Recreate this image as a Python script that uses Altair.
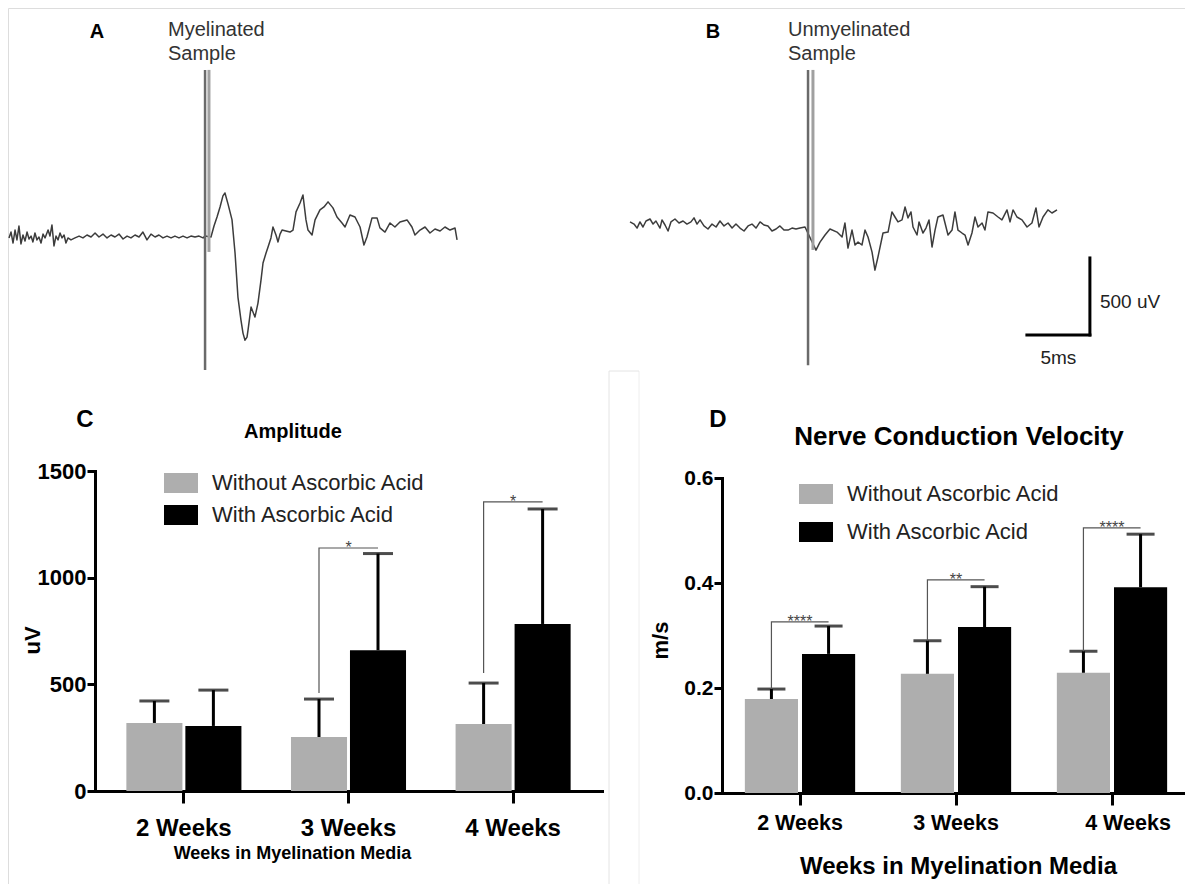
import altair as alt
import pandas as pd

FONT = "Liberation Sans"

# ---------------- data ----------------
weeks = ["2 Weeks", "3 Weeks", "4 Weeks"]
groups = ["Without Ascorbic Acid", "With Ascorbic Acid"]
bar_colors = ["#aeaeae", "#000000"]

amp_mean_without = [319, 253, 314]
amp_sd_without = [103, 178, 192]
amp_mean_with = [305, 660, 783]
amp_sd_with = [168, 453, 539]

ncv_mean_without = [0.179, 0.227, 0.229]
ncv_sd_without = [0.019, 0.063, 0.041]
ncv_mean_with = [0.265, 0.316, 0.392]
ncv_sd_with = [0.053, 0.077, 0.101]

amp_sig_weeks = ["3 Weeks", "4 Weeks"]
amp_sig_labels = ["*", "*"]
amp_sig_low = [459, 553]
amp_sig_high = [1139, 1355]

ncv_sig_weeks = ["2 Weeks", "3 Weeks", "4 Weeks"]
ncv_sig_labels = ["****", "**", "****"]
ncv_sig_low = [0.198, 0.29, 0.27]
ncv_sig_high = [0.326, 0.406, 0.505]

traceA_ms = [0.00, 0.16, 0.32, 0.48, 0.63, 0.79, 0.95, 1.11, 1.27, 1.43,
             1.59, 1.75, 1.90, 2.06, 2.22, 2.38, 2.54, 2.70, 2.86, 3.10,
             3.25, 3.41, 3.57, 3.73, 3.89, 4.05, 4.21, 4.37, 4.52, 4.68,
             4.92, 5.24, 5.56, 5.87, 6.19, 6.51, 6.83, 7.14, 7.46, 7.78,
             8.10, 8.41, 8.73, 9.05, 9.37, 9.68, 10.00, 10.32, 10.63, 10.95,
             11.27, 11.59, 11.90, 12.22, 12.54, 12.86, 13.17, 13.49, 13.81, 14.13,
             14.44, 14.76, 15.08, 15.40, 15.56,
             16.03, 16.27, 16.51, 16.75, 16.98, 17.14, 17.38, 17.54, 17.70, 17.94,
             18.17, 18.41, 18.57, 18.73, 18.89, 18.97, 19.21, 19.37, 19.52, 19.76,
             20.00, 20.16, 20.40, 20.56, 20.79, 20.95, 21.19, 21.35, 21.51, 21.67,
             21.98, 22.30, 22.54, 22.78, 23.10, 23.33, 23.57, 23.73, 24.05, 24.29,
             24.68, 25.00, 25.32, 25.71, 26.03, 26.43, 26.67, 27.06, 27.46, 27.86,
             28.17, 28.41, 28.81, 29.21, 29.44, 29.84, 30.24, 30.63, 31.03, 31.59,
             31.98, 32.22, 32.62, 33.02, 33.41, 33.81, 34.21, 34.60, 35.00, 35.40,
             35.56]
traceA_uV = [-6, 32, -39, 45, -19, 71, -45, 13, -26, 32,
             -13, 6, -32, 26, -19, 0, -39, 19, -6, 45,
             6, 78, -58, 6, -19, 26, -6, 13, -39, -6,
             -19, -6, 6, -6, 13, 0, 26, 0, 19, -6,
             13, 0, 19, -13, 6, -6, 13, 0, 32, -19,
             19, 0, 13, -6, 6, -6, 6, -6, 6, -6,
             6, 0, 6, -6, 6,
             0, 71, 130, 195, 267, 286, 215, 163, 111, -104,
             -390, -540, -624, -670, -650, -605, -455, -488, -520, -429,
             -280, -169, -104, -65, -6, 65, 13, -32, 19, 45,
             39, 32, 45, 163, 221, 273, 111, 45, 13, 111,
             176, 195, 228, 189, 130, 91, 65, 143, 130, 65,
             -52, 0, 124, 124, 59, 32, 91, 65, 98, 111,
             65, 13, 45, 65, 26, 52, 39, 65, 45, 58,
             -19]

traceB_ms = [0.00, 0.32, 0.56, 0.79, 1.03, 1.27, 1.59, 1.83, 2.06, 2.38,
             2.54, 2.78, 3.02, 3.25, 3.57, 3.89, 4.21, 4.52, 4.84, 5.08,
             5.32, 5.56, 5.87, 6.19, 6.51, 6.83, 7.14, 7.46, 7.78, 8.10,
             8.41, 8.73, 9.05, 9.37, 9.68, 10.00, 10.32, 10.63, 10.95, 11.27,
             11.59, 11.90, 12.22, 12.54, 12.86, 13.17, 13.49, 13.89,
             14.76, 15.08, 15.48, 15.87, 16.43, 16.83, 17.06, 17.30, 17.62, 17.86,
             18.10, 18.41, 18.65, 18.89, 19.21, 19.44, 19.68, 20.08, 20.48, 20.79,
             21.03, 21.27, 21.59, 21.83, 22.06, 22.30, 22.46, 22.78, 22.94, 23.25,
             23.49, 23.73, 23.97, 24.21, 24.44, 24.84, 25.24, 25.56, 25.79, 26.03,
             26.35, 26.59, 26.83, 27.14, 27.38, 27.62, 27.94, 28.17, 28.41, 28.81,
             29.21, 29.52, 29.92, 30.16, 30.40, 30.71, 31.11, 31.51, 31.90, 32.22,
             32.46, 32.78, 33.17, 33.49, 33.89]
traceB_uV = [20, 6, -20, 20, -13, 26, 39, 6, 26, -20,
             33, 0, -39, 20, 39, 13, 26, 6, 20, 46,
             6, 33, -6, -26, 6, -13, 26, -6, 13, -20,
             6, -20, -39, -6, 6, -20, 20, 0, -6, -39,
             -26, -6, -33, -33, -20, -26, -20, -13,
             -163, -111, -65, -26, -46, -78, 13, -150, -33, -130,
             -111, -130, -33, -78, -176, -293, -208, -52, -46, 85,
             52, 20, 33, 117, 46, 85, -13, -65, 20, -52,
             -20, 33, -143, -33, 52, 65, -65, -33, 85, -33,
             -52, -65, -130, -52, 52, -13, 13, -33, 85, 78,
             52, 33, 98, 20, 98, 52, 33, -13, 13, 111,
             -13, 52, 98, 78, 98]

# stimulus artefacts (ms, top uV, bottom uV, colour)
artifactA_ms = [15.56, 15.87]
artifactA_top = [1085, 1085]
artifactA_bottom = [-864, -97]
artifactB_ms = [14.13, 14.52]
artifactB_top = [1007, 1007]
artifactB_bottom = [-910, -162]
artifact_colors = ["#6a6a6a", "#a0a0a0"]
artifact_widths = [2.5, 3.0]

# scale bar
scalebar_ms = 5
scalebar_uV = 500
scalebar_corner_ms = 36.5
scalebar_corner_uV = -714

assert len(traceA_ms) == len(traceA_uV)
assert len(traceB_ms) == len(traceB_uV)

# ---------------- layout (chart pixel coords) ----------------
W, H = 1177, 876
PX_PER_MS = 12.6
PX_PER_UV = 0.154


def trace_scales(x0, y0, tmax):
    xs = alt.Scale(domain=[0, tmax], range=[x0, x0 + tmax * PX_PER_MS], nice=False, zero=False)
    ys = alt.Scale(domain=[-1000, 1000], range=[y0 + 1000 * PX_PER_UV, y0 - 1000 * PX_PER_UV],
                   nice=False, zero=False)
    return xs, ys


def trace_panel(ms, uv, art_ms, art_top, art_bot, x0, y0, tmax):
    xs, ys = trace_scales(x0, y0, tmax)
    X = alt.X("t:Q", scale=xs, axis=None)
    Y = alt.Y("v:Q", scale=ys, axis=None)
    line = alt.Chart(pd.DataFrame({"t": ms, "v": uv})).mark_line(
        color="#3c3c3c", strokeWidth=1.5, strokeJoin="round").encode(x=X, y=Y)
    dart = pd.DataFrame({"t": art_ms, "v": art_top, "v2": art_bot,
                         "c": artifact_colors, "w": artifact_widths})
    art = alt.Chart(dart).mark_rule().encode(
        x=X, y=Y, y2="v2:Q",
        color=alt.Color("c:N", scale=None, legend=None),
        strokeWidth=alt.StrokeWidth("w:Q", scale=None, legend=None))
    return [line, art], X, Y


layA, XA, YA = trace_panel(traceA_ms, traceA_uV, artifactA_ms, artifactA_top, artifactA_bottom, 1, 229, 36)
panelA = alt.layer(*layA)

layB, XB, YB = trace_panel(traceB_ms, traceB_uV, artifactB_ms, artifactB_top, artifactB_bottom, 622, 217, 40)
dfBar = pd.DataFrame({
    "t": [scalebar_corner_ms, scalebar_corner_ms - scalebar_ms],
    "t2": [scalebar_corner_ms, scalebar_corner_ms],
    "v": [scalebar_corner_uV, scalebar_corner_uV],
    "v2": [scalebar_corner_uV + scalebar_uV, scalebar_corner_uV],
})
barB = alt.Chart(dfBar).mark_rule(color="black", strokeWidth=3, strokeCap="square").encode(
    x=XB, x2="t2:Q", y=YB, y2="v2:Q")
txtB1 = alt.Chart(pd.DataFrame({"t": [scalebar_corner_ms], "v": [scalebar_corner_uV + scalebar_uV / 2],
                                "label": [f"{scalebar_uV} uV"]})).mark_text(
    align="left", baseline="middle", dx=10, dy=6, font=FONT, fontSize=19, color="#222").encode(
    x=XB, y=YB, text="label:N")
txtB2 = alt.Chart(pd.DataFrame({"t": [scalebar_corner_ms - scalebar_ms / 2], "v": [scalebar_corner_uV],
                                "label": [f"{scalebar_ms}ms"]})).mark_text(
    align="center", baseline="middle", dy=23, font=FONT, fontSize=19, color="#222").encode(
    x=XB, y=YB, text="label:N")
panelB = alt.layer(*layB, barB, txtB1, txtB2)


# ---------------- bar panels ----------------
def bar_panel(means_wo, sds_wo, means_w, sds_w, sig_weeks, sig_labels, sig_low, sig_high,
              xrange, pad_outer, off_pi, off_po, ydomain, yrange, yvalues, yfmt,
              x_offset, y_offset, ytitle, ytitle_x, ytitle_y, xtitle_x, xtitle_y, xtitle_size,
              xlabel_size, ylabel_size, label_pad, label_offset, legend_x, legend_y, legend_rowpad, cap):
    df = pd.DataFrame({
        "week": weeks * 2,
        "group": [groups[0]] * 3 + [groups[1]] * 3,
        "mean": means_wo + means_w,
        "sd": sds_wo + sds_w,
    })
    xaxis = alt.Axis(orient="bottom", offset=x_offset, domainColor="black", domainWidth=3,
                     domainCap="square", tickColor="black", tickWidth=3, tickSize=12,
                     labelFont=FONT, labelFontWeight="bold", labelFontSize=xlabel_size, labelColor="black",
                     labelPadding=label_pad, labelAngle=0, labelOffset=label_offset,
                     title="Weeks in Myelination Media", titleFont=FONT, titleFontSize=xtitle_size,
                     titleFontWeight="bold", titleColor="black", titleX=xtitle_x, titleY=xtitle_y,
                     titleAlign="center", titleBaseline="middle", grid=False)
    yaxis = alt.Axis(orient="left", offset=y_offset, values=yvalues, format=yfmt,
                     domainColor="black", domainWidth=3, domainCap="square",
                     tickColor="black", tickWidth=3, tickSize=8,
                     labelFont=FONT, labelFontWeight="bold", labelFontSize=ylabel_size, labelColor="black",
                     labelPadding=1, title=ytitle, titleFont=FONT, titleFontSize=22,
                     titleFontWeight="bold", titleColor="black", titleX=ytitle_x, titleY=ytitle_y,
                     titleAngle=270, titleAlign="center", titleBaseline="middle", grid=False)
    xs = alt.Scale(domain=weeks, range=xrange, paddingInner=0, paddingOuter=pad_outer)
    xos = alt.Scale(domain=groups, paddingInner=off_pi, paddingOuter=off_po)
    ys = alt.Scale(domain=ydomain, range=yrange, nice=False, zero=False)
    X = alt.X("week:N", scale=xs, axis=xaxis, sort=weeks)
    XO = alt.XOffset("group:N", scale=xos, sort=groups)

    bars = alt.Chart(df).mark_bar(stroke=None).encode(
        x=X, xOffset=XO,
        y=alt.Y("mean:Q", scale=ys, axis=yaxis),
        color=alt.Color("group:N", sort=groups,
                        scale=alt.Scale(domain=groups, range=bar_colors),
                        legend=alt.Legend(orient="none", legendX=legend_x, legendY=legend_y, title=None,
                                          symbolType="M-1,-0.59H1V0.59H-1Z", symbolSize=1156,
                                          symbolStrokeWidth=0, labelFont=FONT, labelFontSize=22,
                                          labelColor="#222", labelOffset=14, rowPadding=legend_rowpad,
                                          labelLimit=0, padding=0)),
    )
    err_base = alt.Chart(df).transform_calculate(top="datum.mean + datum.sd")
    err_rule = err_base.mark_rule(color="black", strokeWidth=3).encode(
        x=X, xOffset=XO, y=alt.Y("mean:Q", scale=ys, axis=yaxis), y2="top:Q")
    err_cap = err_base.mark_tick(color="black", thickness=3, size=cap).encode(
        x=X, xOffset=XO, y=alt.Y("top:Q", scale=ys, axis=yaxis))

    rows = []
    for wk, lo, hi in zip(sig_weeks, sig_low, sig_high):
        rows.append({"week": wk, "group": groups[0], "value": lo, "seq": 0})
        rows.append({"week": wk, "group": groups[0], "value": hi, "seq": 1})
        rows.append({"week": wk, "group": groups[1], "value": hi, "seq": 2})
    dbr = pd.DataFrame(rows)
    brackets = alt.Chart(dbr).mark_line(color="#555555", strokeWidth=1.2).encode(
        x=X, xOffset=XO, y=alt.Y("value:Q", scale=ys, axis=yaxis),
        detail="week:N", order="seq:Q")
    dstar = pd.DataFrame({"week": sig_weeks, "value": sig_high, "label": sig_labels})
    stars = alt.Chart(dstar).mark_text(font=FONT, fontSize=16, color="#444", baseline="alphabetic",
                                       dy=5).encode(
        x=X, y=alt.Y("value:Q", scale=ys, axis=yaxis), text="label:N")
    return alt.layer(bars, err_rule, err_cap, brackets, stars)


panelC = bar_panel(amp_mean_without, amp_sd_without, amp_mean_with, amp_sd_with,
                   amp_sig_weeks, amp_sig_labels, amp_sig_low, amp_sig_high,
                   xrange=[87, 594], pad_outer=0.04, off_pi=0.05, off_po=0.42,
                   ydomain=[0, 1500], yrange=[783, 463], yvalues=[0, 500, 1000, 1500], yfmt="d",
                   x_offset=783 - H, y_offset=-87, ytitle="uV", ytitle_x=-63, ytitle_y=632,
                   xtitle_x=284, xtitle_y=62, xtitle_size=18, xlabel_size=24, ylabel_size=22,
                   label_pad=13, label_offset=0,
                   legend_x=156, legend_y=458, legend_rowpad=4, cap=30)
panelD = bar_panel(ncv_mean_without, ncv_sd_without, ncv_mean_with, ncv_sd_with,
                   ncv_sig_weeks, ncv_sig_labels, ncv_sig_low, ncv_sig_high,
                   xrange=[714, 1182], pad_outer=0.0, off_pi=0.07, off_po=0.40,
                   ydomain=[0, 0.6], yrange=[785, 470], yvalues=[0, 0.2, 0.4, 0.6], yfmt=".1f",
                   x_offset=785 - H, y_offset=-714, ytitle="m/s", ytitle_x=-62, ytitle_y=632,
                   xtitle_x=950, xtitle_y=73, xtitle_size=24, xlabel_size=21.5, ylabel_size=21,
                   label_pad=7,
                   label_offset={"condition": {"test": "datum.value === '4 Weeks'", "value": 16}, "value": 0},
                   legend_x=791, legend_y=469, legend_rowpad=10, cap=28)


# ---------------- annotations ----------------
def note(text, x, y, size, weight="normal", align="center", color="black", line_height=None):
    kw = dict(text=text, font=FONT, fontSize=size, fontWeight=weight, align=align,
              baseline="middle", color=color)
    if line_height:
        kw["lineHeight"] = line_height
    return alt.Chart(alt.Data(values=[{}])).mark_text(**kw).encode(x=alt.value(x), y=alt.value(y))


notes = [
    note("A", 89, 24, 20, "bold"),
    note("B", 705, 24, 20, "bold"),
    note(["Myelinated", "Sample"], 160, 22, 20, align="left", color="#333", line_height=24),
    note(["Unmyelinated", "Sample"], 780, 22, 20, align="left", color="#333", line_height=24),
    note("C", 77, 412, 24, "bold"),
    note("D", 710, 412, 24, "bold"),
    note("Amplitude", 285, 424, 20, "bold"),
    note("Nerve Conduction Velocity", 951, 429, 26, "bold"),
]

sep_v = alt.Chart(alt.Data(values=[{}])).mark_rule(color="#e4e4e4", strokeWidth=1).encode(
    x=alt.value(601), y=alt.value(363), y2=alt.value(H))
sep_v2 = alt.Chart(alt.Data(values=[{}])).mark_rule(color="#eeeeee", strokeWidth=1).encode(
    x=alt.value(631), y=alt.value(363), y2=alt.value(H))
sep_h = alt.Chart(alt.Data(values=[{}])).mark_rule(color="#e4e4e4", strokeWidth=1).encode(
    x=alt.value(601), x2=alt.value(631), y=alt.value(363))

chart = alt.layer(panelA, panelB, panelC, panelD, sep_v, sep_v2, sep_h, *notes).resolve_scale(
    x="independent", y="independent", color="independent", xOffset="independent"
).properties(
    width=W, height=H, autosize=alt.AutoSizeParams(type="none"), padding=0
).configure_view(stroke="transparent", strokeWidth=0, strokeOpacity=0).configure(background="white")

chart.save("out.html", embed_options={"renderer": "svg", "actions": False})
